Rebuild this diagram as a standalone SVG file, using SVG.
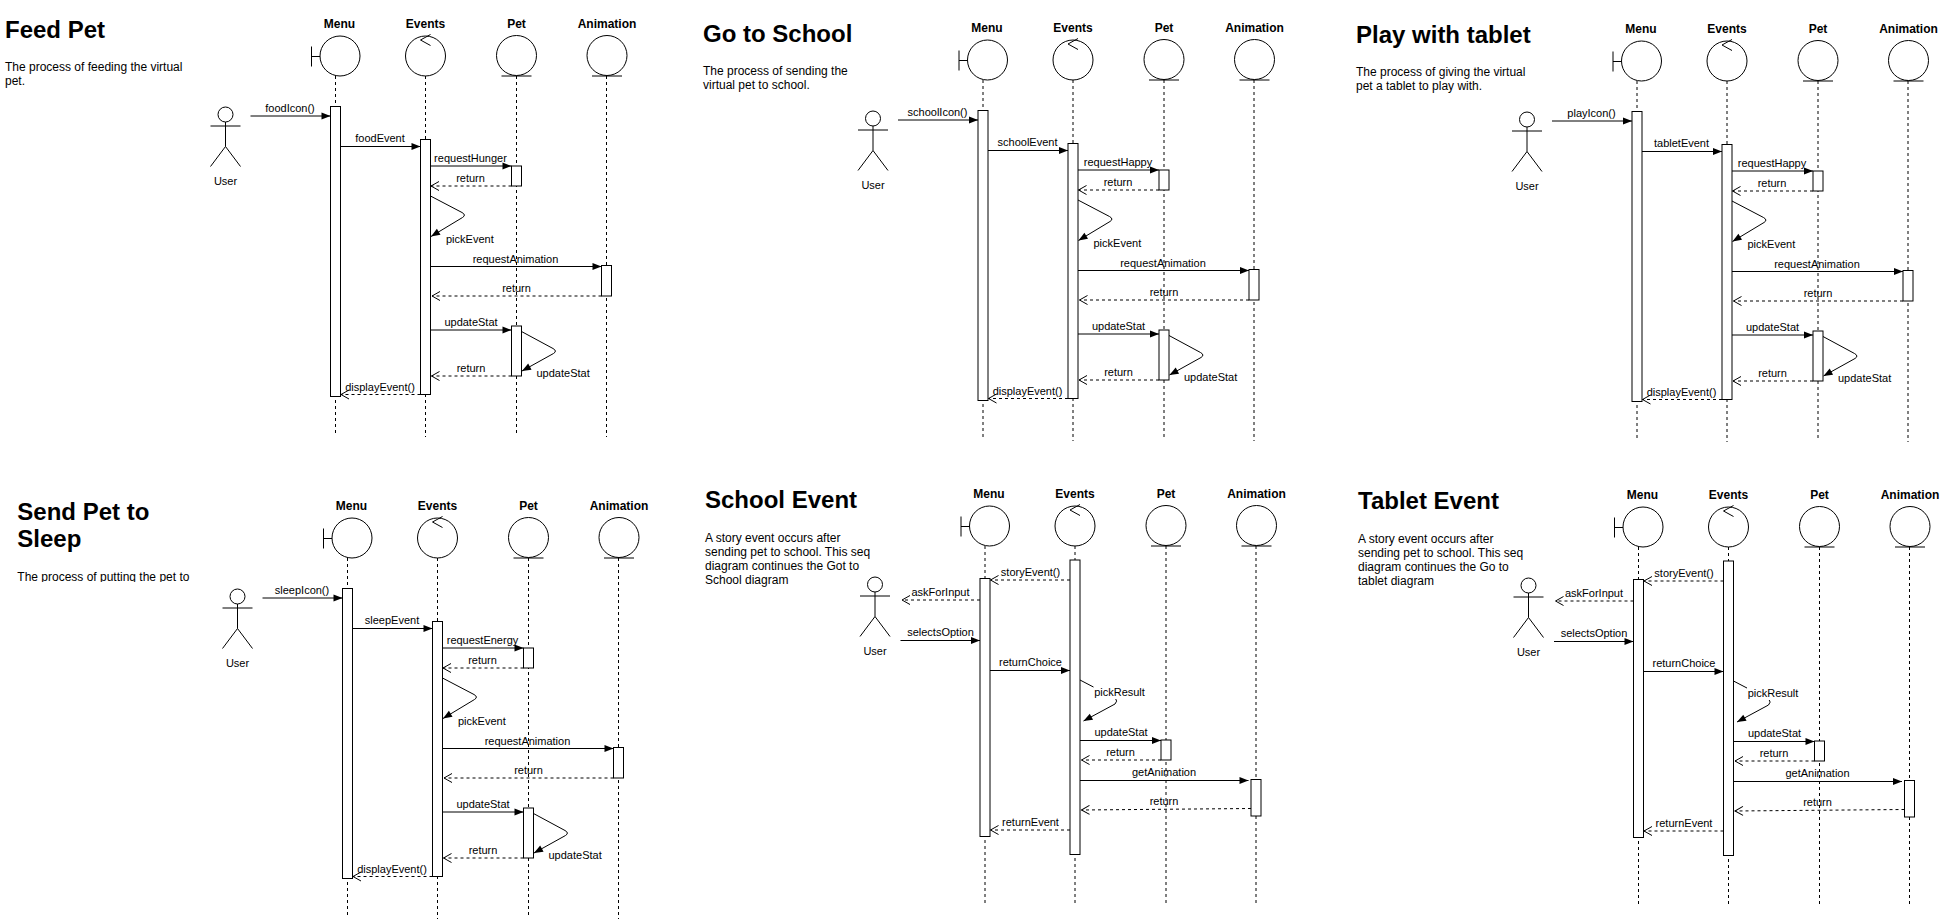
<svg xmlns="http://www.w3.org/2000/svg" width="1949" height="919" viewBox="0 0 1949 919">
<style>
.ln{fill:none;stroke:#000;stroke-width:1}
.ll{fill:none;stroke:#000;stroke-width:1;stroke-dasharray:3 3}
.shp{fill:#fff;stroke:#000;stroke-width:1}
.msg{fill:none;stroke:#000;stroke-width:1;marker-end:url(#block)}
.ret{fill:none;stroke:#000;stroke-width:1;stroke-dasharray:3 3;marker-end:url(#open)}
text{font-family:"Liberation Sans",Arial,Helvetica,sans-serif;fill:#000}
.lb{font-size:11px}
.c{text-anchor:middle}
.hd{font-size:12px;font-weight:bold;text-anchor:middle}
.title{font-size:24px;font-weight:bold}
.desc{font-size:12px}
</style>
<defs>
<marker id="block" markerUnits="userSpaceOnUse" markerWidth="10" markerHeight="8" refX="9" refY="4" orient="auto" style="overflow:visible"><path d="M0,0.5L9,4L0,7.5z" fill="#000" stroke="none"/></marker>
<marker id="open" markerUnits="userSpaceOnUse" markerWidth="10" markerHeight="10" refX="8.5" refY="5" orient="auto" style="overflow:visible"><path d="M0.5,0.5L8.5,5L0.5,9.5" fill="none" stroke="#000" stroke-width="1"/></marker>
<clipPath id="clip4"><rect x="0" y="560" width="300" height="22"/></clipPath>
</defs>
<rect width="1949" height="919" fill="#fff"/>

<!-- ============ Panel 1: Feed Pet ============ -->
<g id="feed-pet">
<text class="title" x="5" y="37.5">Feed Pet</text>
<text class="desc" x="5" y="71">The process of feeding the virtual</text>
<text class="desc" x="5" y="85">pet.</text>
<g transform="translate(0,0)">
<g id="p1-menu"><text class="hd" x="339.5" y="27.5">Menu</text><path class="ln" d="M311.5,46.5V66.5M311.5,56.5H320"/><circle class="shp" cx="340" cy="56" r="20"/><path class="ll" d="M335.5,76V433"/><rect class="shp" x="330.5" y="106.5" width="10" height="290"/></g>
<g id="p1-events"><text class="hd" x="425.5" y="27.5">Events</text><circle class="shp" cx="425.5" cy="56" r="20"/><path class="ln" d="M430.5,34.5L420.5,40L430.5,45.5"/><path class="ll" d="M425.5,76V437"/><rect class="shp" x="420.5" y="139.5" width="10" height="255"/></g>
<g id="p1-pet"><text class="hd" x="516.5" y="27.5">Pet</text><circle class="shp" cx="516.5" cy="55.5" r="20"/><path class="ln" d="M501.5,76H531.5"/><path class="ll" d="M516.5,76V434"/><rect class="shp" x="511.5" y="166" width="10" height="20"/><rect class="shp" x="511.5" y="326" width="10" height="50"/></g>
<g id="p1-animation"><text class="hd" x="607" y="27.5">Animation</text><circle class="shp" cx="607" cy="55.5" r="20"/><path class="ln" d="M592,76H622"/><path class="ll" d="M606.5,76V437"/><rect class="shp" x="601.5" y="265.5" width="10" height="30.5"/></g>
<g id="p1-user"><circle class="shp" cx="225.5" cy="114.5" r="7.5"/><path class="ln" d="M210.5,126H240.5M225.5,122V146.5M210.5,166.5L225.5,146.5L240.5,166.5"/><text class="lb c" x="225.5" y="185">User</text></g>
<g id="p1-connectors">
<path class="msg" d="M250.5,116H330.5"/>
<path class="msg" d="M340.5,146.5H420.5"/>
<path class="msg" d="M430.5,166H511.5"/>
<path class="ret" d="M511.5,186H431"/>
<path class="msg" d="M430.5,196L462,212.5Q466.5,215 462.5,217.5L431,236.5"/>
<path class="msg" d="M430.5,266.5H601.5"/>
<path class="ret" d="M601.5,296H432"/>
<path class="msg" d="M430.5,330H511.5"/>
<path class="msg" d="M521.5,331.5L553,348.5Q557.5,351 553.5,353.5L522,371"/>
<path class="ret" d="M511.5,376H431.5"/>
<path class="ret" d="M420.5,394.5H341"/>
<text class="lb c" x="290" y="112">foodIcon()</text>
<text class="lb c" x="380" y="142">foodEvent</text>
<text class="lb c" x="470.5" y="162">requestHunger</text>
<text class="lb c" x="470.5" y="182">return</text>
<text class="lb" x="446" y="243">pickEvent</text>
<text class="lb c" x="515.5" y="262.5">requestAnimation</text>
<text class="lb c" x="516.5" y="292">return</text>
<text class="lb c" x="471" y="325.5">updateStat</text>
<text class="lb" x="536.5" y="377">updateStat</text>
<text class="lb c" x="471" y="372">return</text>
<text class="lb c" x="380" y="390.5">displayEvent()</text>
</g>
</g>
</g>

<!-- ============ Panel 2: Go to School ============ -->
<g id="go-to-school">
<text class="title" x="703" y="41.7">Go to School</text>
<text class="desc" x="703" y="75.3">The process of sending the</text>
<text class="desc" x="703" y="89.3">virtual pet to school.</text>
<g transform="translate(647.5,4)">
<g id="p2-menu"><text class="hd" x="339.5" y="27.5">Menu</text><path class="ln" d="M311.5,46.5V66.5M311.5,56.5H320"/><circle class="shp" cx="340" cy="56" r="20"/><path class="ll" d="M335.5,76V433"/><rect class="shp" x="330.5" y="106.5" width="10" height="290"/></g>
<g id="p2-events"><text class="hd" x="425.5" y="27.5">Events</text><circle class="shp" cx="425.5" cy="56" r="20"/><path class="ln" d="M430.5,34.5L420.5,40L430.5,45.5"/><path class="ll" d="M425.5,76V437"/><rect class="shp" x="420.5" y="139.5" width="10" height="255"/></g>
<g id="p2-pet"><text class="hd" x="516.5" y="27.5">Pet</text><circle class="shp" cx="516.5" cy="55.5" r="20"/><path class="ln" d="M501.5,76H531.5"/><path class="ll" d="M516.5,76V434"/><rect class="shp" x="511.5" y="166" width="10" height="20"/><rect class="shp" x="511.5" y="326" width="10" height="50"/></g>
<g id="p2-animation"><text class="hd" x="607" y="27.5">Animation</text><circle class="shp" cx="607" cy="55.5" r="20"/><path class="ln" d="M592,76H622"/><path class="ll" d="M606.5,76V437"/><rect class="shp" x="601.5" y="265.5" width="10" height="30.5"/></g>
<g id="p2-user"><circle class="shp" cx="225.5" cy="114.5" r="7.5"/><path class="ln" d="M210.5,126H240.5M225.5,122V146.5M210.5,166.5L225.5,146.5L240.5,166.5"/><text class="lb c" x="225.5" y="185">User</text></g>
<g id="p2-connectors">
<path class="msg" d="M250.5,116H330.5"/>
<path class="msg" d="M340.5,146.5H420.5"/>
<path class="msg" d="M430.5,166H511.5"/>
<path class="ret" d="M511.5,186H431"/>
<path class="msg" d="M430.5,196L462,212.5Q466.5,215 462.5,217.5L431,236.5"/>
<path class="msg" d="M430.5,266.5H601.5"/>
<path class="ret" d="M601.5,296H432"/>
<path class="msg" d="M430.5,330H511.5"/>
<path class="msg" d="M521.5,331.5L553,348.5Q557.5,351 553.5,353.5L522,371"/>
<path class="ret" d="M511.5,376H431.5"/>
<path class="ret" d="M420.5,394.5H341"/>
<text class="lb c" x="290" y="112">schoolIcon()</text>
<text class="lb c" x="380" y="142">schoolEvent</text>
<text class="lb c" x="470.5" y="162">requestHappy</text>
<text class="lb c" x="470.5" y="182">return</text>
<text class="lb" x="446" y="243">pickEvent</text>
<text class="lb c" x="515.5" y="262.5">requestAnimation</text>
<text class="lb c" x="516.5" y="292">return</text>
<text class="lb c" x="471" y="325.5">updateStat</text>
<text class="lb" x="536.5" y="377">updateStat</text>
<text class="lb c" x="471" y="372">return</text>
<text class="lb c" x="380" y="390.5">displayEvent()</text>
</g>
</g>
</g>

<!-- ============ Panel 3: Play with tablet ============ -->
<g id="play-with-tablet">
<text class="title" x="1356" y="42.7">Play with tablet</text>
<text class="desc" x="1356" y="76.3">The process of giving the virtual</text>
<text class="desc" x="1356" y="90.3">pet a tablet to play with.</text>
<g transform="translate(1301.5,5)">
<g id="p3-menu"><text class="hd" x="339.5" y="27.5">Menu</text><path class="ln" d="M311.5,46.5V66.5M311.5,56.5H320"/><circle class="shp" cx="340" cy="56" r="20"/><path class="ll" d="M335.5,76V433"/><rect class="shp" x="330.5" y="106.5" width="10" height="290"/></g>
<g id="p3-events"><text class="hd" x="425.5" y="27.5">Events</text><circle class="shp" cx="425.5" cy="56" r="20"/><path class="ln" d="M430.5,34.5L420.5,40L430.5,45.5"/><path class="ll" d="M425.5,76V437"/><rect class="shp" x="420.5" y="139.5" width="10" height="255"/></g>
<g id="p3-pet"><text class="hd" x="516.5" y="27.5">Pet</text><circle class="shp" cx="516.5" cy="55.5" r="20"/><path class="ln" d="M501.5,76H531.5"/><path class="ll" d="M516.5,76V434"/><rect class="shp" x="511.5" y="166" width="10" height="20"/><rect class="shp" x="511.5" y="326" width="10" height="50"/></g>
<g id="p3-animation"><text class="hd" x="607" y="27.5">Animation</text><circle class="shp" cx="607" cy="55.5" r="20"/><path class="ln" d="M592,76H622"/><path class="ll" d="M606.5,76V437"/><rect class="shp" x="601.5" y="265.5" width="10" height="30.5"/></g>
<g id="p3-user"><circle class="shp" cx="225.5" cy="114.5" r="7.5"/><path class="ln" d="M210.5,126H240.5M225.5,122V146.5M210.5,166.5L225.5,146.5L240.5,166.5"/><text class="lb c" x="225.5" y="185">User</text></g>
<g id="p3-connectors">
<path class="msg" d="M250.5,116H330.5"/>
<path class="msg" d="M340.5,146.5H420.5"/>
<path class="msg" d="M430.5,166H511.5"/>
<path class="ret" d="M511.5,186H431"/>
<path class="msg" d="M430.5,196L462,212.5Q466.5,215 462.5,217.5L431,236.5"/>
<path class="msg" d="M430.5,266.5H601.5"/>
<path class="ret" d="M601.5,296H432"/>
<path class="msg" d="M430.5,330H511.5"/>
<path class="msg" d="M521.5,331.5L553,348.5Q557.5,351 553.5,353.5L522,371"/>
<path class="ret" d="M511.5,376H431.5"/>
<path class="ret" d="M420.5,394.5H341"/>
<text class="lb c" x="290" y="112">playIcon()</text>
<text class="lb c" x="380" y="142">tabletEvent</text>
<text class="lb c" x="470.5" y="162">requestHappy</text>
<text class="lb c" x="470.5" y="182">return</text>
<text class="lb" x="446" y="243">pickEvent</text>
<text class="lb c" x="515.5" y="262.5">requestAnimation</text>
<text class="lb c" x="516.5" y="292">return</text>
<text class="lb c" x="471" y="325.5">updateStat</text>
<text class="lb" x="536.5" y="377">updateStat</text>
<text class="lb c" x="471" y="372">return</text>
<text class="lb c" x="380" y="390.5">displayEvent()</text>
</g>
</g>
</g>

<!-- ============ Panel 4: Send Pet to Sleep ============ -->
<g id="send-pet-to-sleep">
<text class="title" x="17.3" y="520">Send Pet to</text>
<text class="title" x="17.3" y="546.7">Sleep</text>
<text class="desc" x="17.3" y="581.3" clip-path="url(#clip4)">The process of putting the pet to</text>
<g transform="translate(12,482)">
<g id="p4-menu"><text class="hd" x="339.5" y="27.5">Menu</text><path class="ln" d="M311.5,46.5V66.5M311.5,56.5H320"/><circle class="shp" cx="340" cy="56" r="20"/><path class="ll" d="M335.5,76V433"/><rect class="shp" x="330.5" y="106.5" width="10" height="290"/></g>
<g id="p4-events"><text class="hd" x="425.5" y="27.5">Events</text><circle class="shp" cx="425.5" cy="56" r="20"/><path class="ln" d="M430.5,34.5L420.5,40L430.5,45.5"/><path class="ll" d="M425.5,76V437"/><rect class="shp" x="420.5" y="139.5" width="10" height="255"/></g>
<g id="p4-pet"><text class="hd" x="516.5" y="27.5">Pet</text><circle class="shp" cx="516.5" cy="55.5" r="20"/><path class="ln" d="M501.5,76H531.5"/><path class="ll" d="M516.5,76V434"/><rect class="shp" x="511.5" y="166" width="10" height="20"/><rect class="shp" x="511.5" y="326" width="10" height="50"/></g>
<g id="p4-animation"><text class="hd" x="607" y="27.5">Animation</text><circle class="shp" cx="607" cy="55.5" r="20"/><path class="ln" d="M592,76H622"/><path class="ll" d="M606.5,76V437"/><rect class="shp" x="601.5" y="265.5" width="10" height="30.5"/></g>
<g id="p4-user"><circle class="shp" cx="225.5" cy="114.5" r="7.5"/><path class="ln" d="M210.5,126H240.5M225.5,122V146.5M210.5,166.5L225.5,146.5L240.5,166.5"/><text class="lb c" x="225.5" y="185">User</text></g>
<g id="p4-connectors">
<path class="msg" d="M250.5,116H330.5"/>
<path class="msg" d="M340.5,146.5H420.5"/>
<path class="msg" d="M430.5,166H511.5"/>
<path class="ret" d="M511.5,186H431"/>
<path class="msg" d="M430.5,196L462,212.5Q466.5,215 462.5,217.5L431,236.5"/>
<path class="msg" d="M430.5,266.5H601.5"/>
<path class="ret" d="M601.5,296H432"/>
<path class="msg" d="M430.5,330H511.5"/>
<path class="msg" d="M521.5,331.5L553,348.5Q557.5,351 553.5,353.5L522,371"/>
<path class="ret" d="M511.5,376H431.5"/>
<path class="ret" d="M420.5,394.5H341"/>
<text class="lb c" x="290" y="112">sleepIcon()</text>
<text class="lb c" x="380" y="142">sleepEvent</text>
<text class="lb c" x="470.5" y="162">requestEnergy</text>
<text class="lb c" x="470.5" y="182">return</text>
<text class="lb" x="446" y="243">pickEvent</text>
<text class="lb c" x="515.5" y="262.5">requestAnimation</text>
<text class="lb c" x="516.5" y="292">return</text>
<text class="lb c" x="471" y="325.5">updateStat</text>
<text class="lb" x="536.5" y="377">updateStat</text>
<text class="lb c" x="471" y="372">return</text>
<text class="lb c" x="380" y="390.5">displayEvent()</text>
</g>
</g>
</g>

<!-- ============ Panel 5: School Event ============ -->
<g id="school-event">
<text class="title" x="705" y="508">School Event</text>
<text class="desc" x="705" y="542">A story event occurs after</text>
<text class="desc" x="705" y="556">sending pet to school. This seq</text>
<text class="desc" x="705" y="570">diagram continues the Got to</text>
<text class="desc" x="705" y="584">School diagram</text>
<g transform="translate(649.5,470)">
<g id="p5-menu"><text class="hd" x="339.5" y="27.5">Menu</text><path class="ln" d="M311.5,46.5V66.5M311.5,56.5H320"/><circle class="shp" cx="340" cy="56" r="20"/><path class="ll" d="M335.5,76V433"/><rect class="shp" x="330.5" y="108.5" width="10" height="258"/></g>
<g id="p5-events"><text class="hd" x="425.5" y="27.5">Events</text><circle class="shp" cx="425.5" cy="56" r="20"/><path class="ln" d="M430.5,34.5L420.5,40L430.5,45.5"/><path class="ll" d="M425.5,76V435"/><rect class="shp" x="420.5" y="90" width="10" height="294.5"/></g>
<g id="p5-pet"><text class="hd" x="516.5" y="27.5">Pet</text><circle class="shp" cx="516.5" cy="55.5" r="20"/><path class="ln" d="M501.5,76H531.5"/><path class="ll" d="M516.5,76V434"/><rect class="shp" x="511.5" y="270" width="10" height="20"/></g>
<g id="p5-animation"><text class="hd" x="607" y="27.5">Animation</text><circle class="shp" cx="607" cy="55.5" r="20"/><path class="ln" d="M592,76H622"/><path class="ll" d="M606.5,76V435"/><rect class="shp" x="601.5" y="309.5" width="10" height="36.5"/></g>
<g id="p5-user"><circle class="shp" cx="225.5" cy="114.5" r="7.5"/><path class="ln" d="M210.5,126H240.5M225.5,122V146.5M210.5,166.5L225.5,146.5L240.5,166.5"/><text class="lb c" x="225.5" y="185">User</text></g>
<g id="p5-connectors">
<path class="ret" d="M420.5,110H341"/>
<path class="ret" d="M330.5,130H252.5"/>
<path class="msg" d="M251,170.5H330.5"/>
<path class="msg" d="M340.5,200.5H420.5"/>
<path class="msg" d="M430.5,210L466,228.5Q468.5,231 465.5,234L434,251"/>
<path class="msg" d="M430.5,270.5H511.5"/>
<path class="ret" d="M511.5,290H432"/>
<path class="msg" d="M430.5,310.5H599"/>
<path class="ret" d="M601.5,338.5L432,340"/>
<path class="ret" d="M420.5,360H341"/>
<text class="lb c" x="381" y="106">storyEvent()</text>
<text class="lb c" x="291" y="126.3">askForInput</text>
<text class="lb c" x="291" y="166.3">selectsOption</text>
<text class="lb c" x="381" y="196.3">returnChoice</text>
<rect x="444" y="216" width="52" height="13" fill="#fff"/>
<text class="lb c" x="470" y="226.3">pickResult</text>
<text class="lb c" x="471.5" y="266.3">updateStat</text>
<text class="lb c" x="471" y="286.3">return</text>
<text class="lb c" x="514.5" y="306.3">getAnimation</text>
<text class="lb c" x="514.5" y="335">return</text>
<text class="lb c" x="381" y="356.3">returnEvent</text>
</g>
</g>
</g>

<!-- ============ Panel 6: Tablet Event ============ -->
<g id="tablet-event">
<text class="title" x="1358" y="508.5">Tablet Event</text>
<text class="desc" x="1358" y="542.6">A story event occurs after</text>
<text class="desc" x="1358" y="556.6">sending pet to school. This seq</text>
<text class="desc" x="1358" y="570.6">diagram continues the Go to</text>
<text class="desc" x="1358" y="584.6">tablet diagram</text>
<g transform="translate(1303,471)">
<g id="p6-menu"><text class="hd" x="339.5" y="27.5">Menu</text><path class="ln" d="M311.5,46.5V66.5M311.5,56.5H320"/><circle class="shp" cx="340" cy="56" r="20"/><path class="ll" d="M335.5,76V433"/><rect class="shp" x="330.5" y="108.5" width="10" height="258"/></g>
<g id="p6-events"><text class="hd" x="425.5" y="27.5">Events</text><circle class="shp" cx="425.5" cy="56" r="20"/><path class="ln" d="M430.5,34.5L420.5,40L430.5,45.5"/><path class="ll" d="M425.5,76V435"/><rect class="shp" x="420.5" y="90" width="10" height="294.5"/></g>
<g id="p6-pet"><text class="hd" x="516.5" y="27.5">Pet</text><circle class="shp" cx="516.5" cy="55.5" r="20"/><path class="ln" d="M501.5,76H531.5"/><path class="ll" d="M516.5,76V434"/><rect class="shp" x="511.5" y="270" width="10" height="20"/></g>
<g id="p6-animation"><text class="hd" x="607" y="27.5">Animation</text><circle class="shp" cx="607" cy="55.5" r="20"/><path class="ln" d="M592,76H622"/><path class="ll" d="M606.5,76V435"/><rect class="shp" x="601.5" y="309.5" width="10" height="36.5"/></g>
<g id="p6-user"><circle class="shp" cx="225.5" cy="114.5" r="7.5"/><path class="ln" d="M210.5,126H240.5M225.5,122V146.5M210.5,166.5L225.5,146.5L240.5,166.5"/><text class="lb c" x="225.5" y="185">User</text></g>
<g id="p6-connectors">
<path class="ret" d="M420.5,110H341"/>
<path class="ret" d="M330.5,130H252.5"/>
<path class="msg" d="M251,170.5H330.5"/>
<path class="msg" d="M340.5,200.5H420.5"/>
<path class="msg" d="M430.5,210L466,228.5Q468.5,231 465.5,234L434,251"/>
<path class="msg" d="M430.5,270.5H511.5"/>
<path class="ret" d="M511.5,290H432"/>
<path class="msg" d="M430.5,310.5H599"/>
<path class="ret" d="M601.5,338.5L432,340"/>
<path class="ret" d="M420.5,360H341"/>
<text class="lb c" x="381" y="106">storyEvent()</text>
<text class="lb c" x="291" y="126.3">askForInput</text>
<text class="lb c" x="291" y="166.3">selectsOption</text>
<text class="lb c" x="381" y="196.3">returnChoice</text>
<rect x="444" y="216" width="52" height="13" fill="#fff"/>
<text class="lb c" x="470" y="226.3">pickResult</text>
<text class="lb c" x="471.5" y="266.3">updateStat</text>
<text class="lb c" x="471" y="286.3">return</text>
<text class="lb c" x="514.5" y="306.3">getAnimation</text>
<text class="lb c" x="514.5" y="335">return</text>
<text class="lb c" x="381" y="356.3">returnEvent</text>
</g>
</g>
</g>
</svg>
